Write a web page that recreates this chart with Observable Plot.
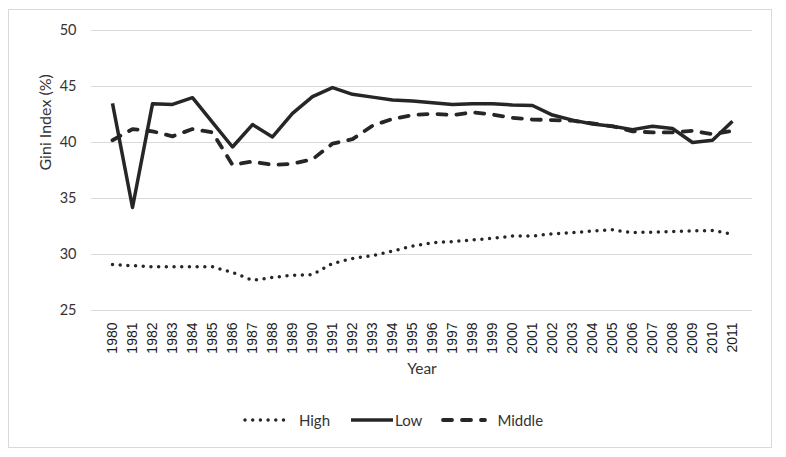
<!DOCTYPE html>
<html>
<head>
<meta charset="utf-8">
<script src="https://cdn.jsdelivr.net/npm/d3@7"></script>
<script src="https://cdn.jsdelivr.net/npm/@observablehq/plot@0.6"></script>
<style>
  html, body { margin: 0; padding: 0; background: #fff; }
  #page { position: relative; width: 786px; height: 457px; overflow: hidden; }
  #frame { position: absolute; left: 8px; top: 9px; width: 762px; height: 437px; border: 1px solid #d9d9d9; box-sizing: content-box; }
  #chart { position: absolute; left: 0; top: 0; }
  #legend { position: absolute; left: 0; top: 411px; width: 786px; display: flex; justify-content: center; align-items: center;
            font-family: Lato, "Open Sans", sans-serif; font-size: 15px; color: #333; }
  .item { display: flex; align-items: center; }
  .item svg { display: block; }
</style>
</head>
<body>
<div id="page">
  <div id="frame"></div>
  <div id="chart"></div>
  <div id="legend"></div>
</div>
<script>
const years = ["1980","1981","1982","1983","1984","1985","1986","1987","1988","1989","1990","1991","1992","1993","1994","1995","1996","1997","1998","1999","2000","2001","2002","2003","2004","2005","2006","2007","2008","2009","2010","2011"];
const high = [29.1, 29.0, 28.9, 28.9, 28.9, 28.9, 28.4, 27.7, 27.95, 28.15, 28.2, 29.2, 29.65, 29.9, 30.3, 30.75, 31.05, 31.15, 31.3, 31.45, 31.65, 31.65, 31.85, 31.95, 32.1, 32.2, 31.95, 32.0, 32.05, 32.1, 32.15, 31.8];
const low = [43.5, 34.2, 43.45, 43.4, 44.0, 41.8, 39.6, 41.6, 40.5, 42.6, 44.1, 44.9, 44.3, 44.05, 43.8, 43.7, 43.55, 43.4, 43.45, 43.45, 43.35, 43.3, 42.45, 42.0, 41.65, 41.45, 41.15, 41.45, 41.25, 40.0, 40.2, 41.9];
const middle = [40.2, 41.2, 41.0, 40.55, 41.2, 40.9, 38.0, 38.3, 38.0, 38.1, 38.5, 39.9, 40.3, 41.5, 42.1, 42.45, 42.55, 42.45, 42.7, 42.5, 42.2, 42.05, 42.0, 41.95, 41.7, 41.45, 41.0, 40.9, 40.9, 41.05, 40.75, 41.05];
const yTicks = [25, 30, 35, 40, 45, 50];
const seriesNames = ["High", "Low", "Middle"];

const ink = "#262626";
const styles = {
  High: {strokeWidth: 3.5, strokeDasharray: "0,7.7", strokeLinecap: "round"},
  Low: {strokeWidth: 3.5, strokeLinecap: "butt"},
  Middle: {strokeWidth: 3.8, strokeDasharray: "9,10", strokeLinecap: "round"}
};
const seriesValues = {High: high, Low: low, Middle: middle};

const rows = (name) => years.map((y, i) => ({year: y, value: seriesValues[name][i]}));

const chart = Plot.plot({
  width: 786,
  height: 400,
  marginLeft: 91,
  marginRight: 34,
  marginTop: 30,
  marginBottom: 90,
  style: {background: "transparent", fontFamily: "Lato, sans-serif", color: "#333"},
  x: {type: "point", domain: years, padding: 0.5},
  y: {domain: [25, 50]},
  marks: [
    Plot.gridY(yTicks, {stroke: "#d9d9d9", strokeOpacity: 1, strokeWidth: 1}),
    Plot.axisY(yTicks, {tickSize: 0, tickPadding: 15, fontSize: 14.5, fontFamily: "Lato, sans-serif", fill: "#333",
      label: null}),
    Plot.axisX({tickSize: 0, tickPadding: 12, tickRotate: -90, fontSize: 14, fontFamily: "'Liberation Sans', Arial, sans-serif", fill: "#1a1a1a", label: null}),
    Plot.text(["Gini Index (%)"], {frameAnchor: "left", rotate: -90, dx: -46, fontSize: 16, fontFamily: "Lato, sans-serif", fill: "#333", text: d => d}),
    Plot.text(["Year"], {frameAnchor: "bottom", dy: 63, fontSize: 15.5, fontFamily: "Lato, sans-serif", fill: "#333", text: d => d}),
    ...seriesNames.map(name => Plot.lineY(rows(name), {x: "year", y: "value", stroke: ink, ...styles[name]}))
  ]
});
document.getElementById("chart").appendChild(chart);

// legend
const legend = document.getElementById("legend");
const gaps = {High: 10, Low: 0, Middle: 10};
seriesNames.forEach((name, i) => {
  const item = document.createElement("div");
  item.className = "item";
  if (i > 0) item.style.marginLeft = "19px";
  const s = styles[name];
  const svg = `<svg width="46" height="12"><line x1="2" x2="44" y1="6" y2="6" stroke="${ink}" stroke-width="${s.strokeWidth}" ${s.strokeDasharray ? `stroke-dasharray="${s.strokeDasharray}"` : ""} stroke-linecap="${s.strokeLinecap}"/></svg>`;
  item.innerHTML = svg + `<span style="margin-left:${gaps[name]}px">${name}</span>`;
  legend.appendChild(item);
});
</script>
</body>
</html>
